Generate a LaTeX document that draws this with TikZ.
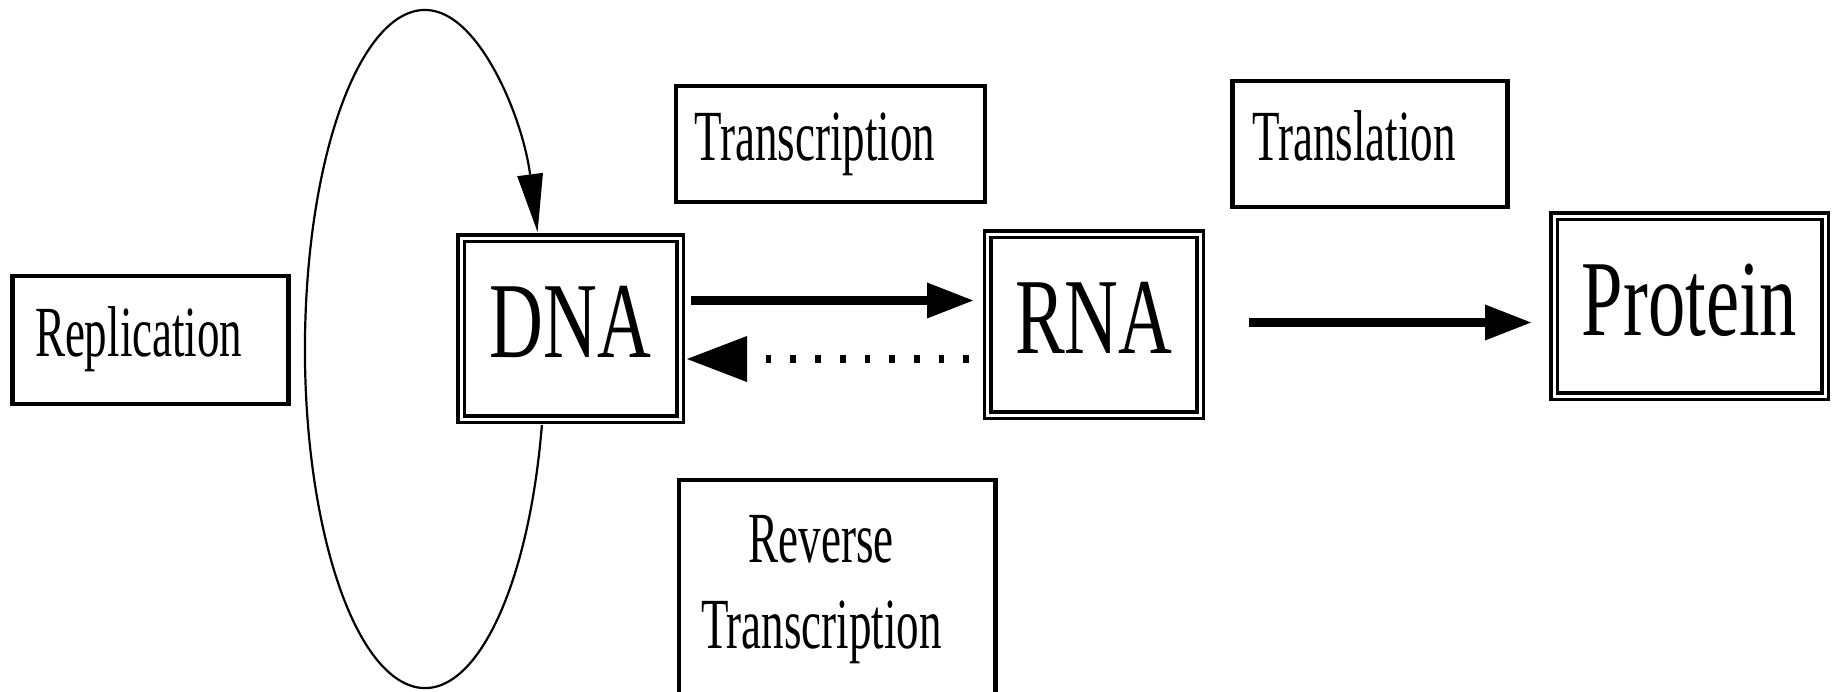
\documentclass[tikz,border=0pt]{standalone}
\usepackage{fontspec}
\usetikzlibrary{arrows.meta}
\newfontfamily\labelfont[FakeStretch=0.625]{Liberation Serif}
\newfontfamily\termfont[FakeStretch=0.69]{Liberation Serif}
\begin{document}
\begin{tikzpicture}[x=1pt, y=-1pt,
  every node/.style={inner sep=0pt, outer sep=0pt},
  label box/.style={draw, rectangle, line width=4.5pt, align=left,
    font=\labelfont\fontsize{72}{86}\selectfont,
    text height=48pt, text depth=15pt},
  term box/.style={draw, rectangle, line width=3.5pt, double, double distance=3pt,
    font=\termfont\fontsize{108}{130}\selectfont,
    text height=71pt, text depth=13pt},
  flow/.style={line width=9pt,
    -{Triangle[length=46pt, width=36pt, line width=0pt]}},
  backflow/.style={line width=8pt, dash pattern=on 5.7pt off 19pt,
    -{Triangle[length=60pt, width=46pt, line width=0pt]}},
  cycleline/.style={line width=2.2pt,
    -{Triangle[length=58pt, width=26pt, line width=0pt]}}
]
\useasboundingbox (0,0) rectangle (1837,692);
\fill[white] (0,0) rectangle (1837,692);
\clip (0,0) rectangle (1837,692);

% molecules
\node[term box, minimum width=219pt, minimum height=181pt] (dna) at (570.5,329) {DNA};
\node[term box, minimum width=212.5pt, minimum height=180.7pt] (rna) at (1093.75,324.7) {RNA};
\node[term box, minimum width=271pt, minimum height=180pt] (protein) at (1689.5,306.5) {Protein};

% process labels
\node[label box, text width=231pt, inner xsep=22.5pt, minimum height=128pt] (rep) at (150.5,340) {Replication};
\node[label box, text width=271.8pt, inner xsep=18.6pt, minimum height=116pt] (tsc) at (830.5,144) {Transcription};
\node[label box, text width=235pt, inner xsep=20pt, minimum height=126pt] (tsl) at (1370,144) {Translation};
\node[label box, anchor=north, text width=272.5pt, inner xsep=22pt, inner ysep=20pt,
      text height=62pt, text depth=170pt] (rev) at (837.25,480)
      {\begin{tabular}[t]{@{}c@{}}Reverse\\Transcription\end{tabular}};

% transcription
\coordinate (a1) at ([shift={(11,-28.5)}]dna.east);
\path (rna.west |- a1) ++(-14.5,0) coordinate (a2);
\draw[flow] (a1) -- (a2);

% reverse transcription
\coordinate (b1) at ([shift={(-18.5,34.3)}]rna.west);
\path (dna.east |- b1) ++(7,0) coordinate (b2);
\draw[backflow] (b1) -- (b2);

% translation
\coordinate (c1) at ([shift={(49,-2.2)}]rna.east);
\path (protein.west |- c1) ++(-23,0) coordinate (c2);
\draw[flow] (c1) -- (c2);

% replication loop
\draw[cycleline] ([shift={(-28.6,5.5)}]dna.south)
  arc[start angle=-12.95, end angle=-339.81, x radius=120pt, y radius=339pt];
\end{tikzpicture}
\end{document}
